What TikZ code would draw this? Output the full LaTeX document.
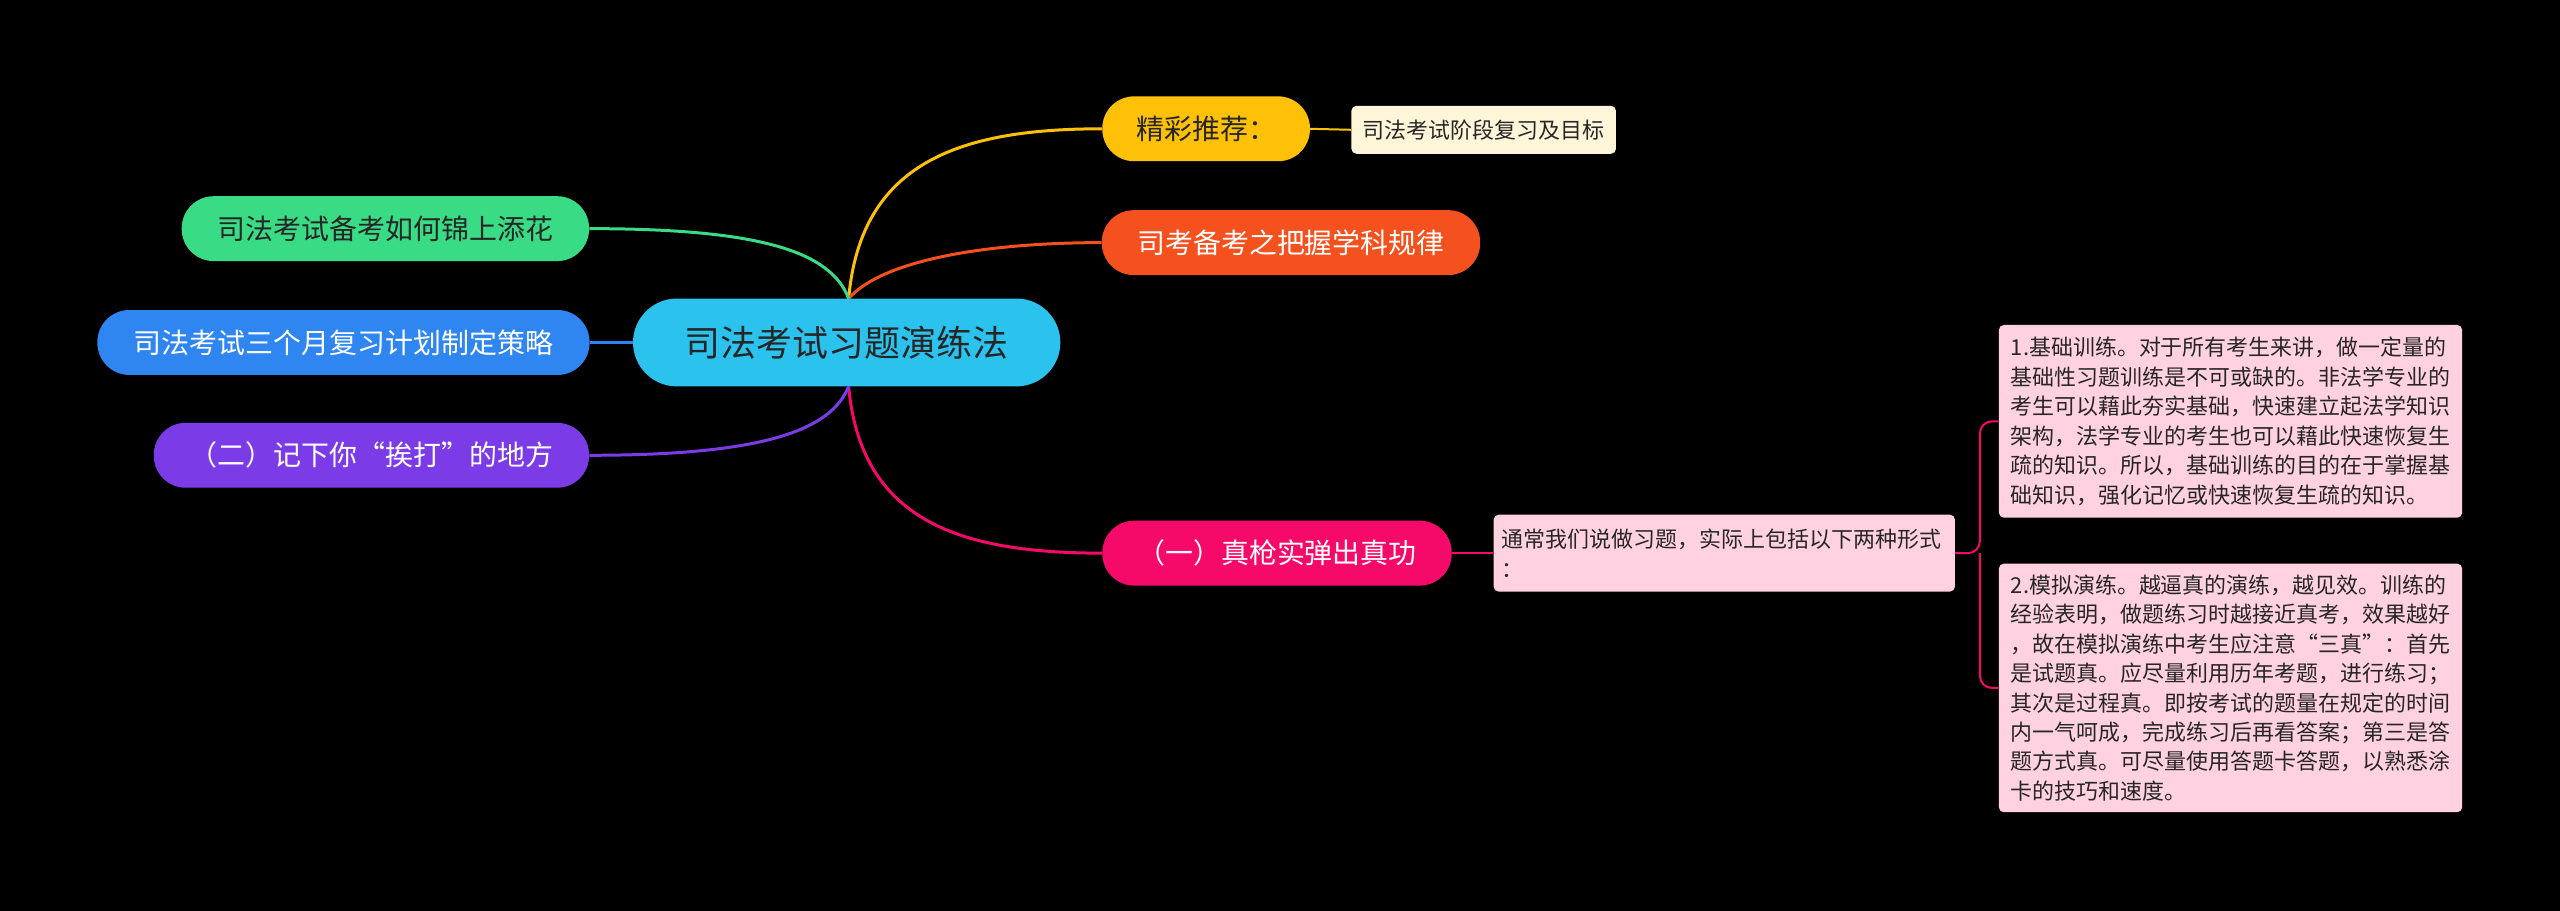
\documentclass[tikz,border=0pt]{standalone}
\usepackage{fontspec}
\setmainfont{Noto Sans CJK SC}
\begin{document}
\begin{tikzpicture}[x=1pt,y=-1pt,
 topic/.style={rounded corners=32pt,minimum height=65pt,inner sep=0pt,font=\fontsize{28}{30}\selectfont,text=white},
 note/.style={rounded corners=5pt,inner sep=0pt,align=left,font=\fontsize{22}{30}\selectfont,text=black!85},
 conn/.style={line width=3pt}]
\fill[black] (-2,-2) rectangle (2562,910);
\useasboundingbox (0,0) rectangle (2560,908);
\definecolor{cya}{HTML}{2BC3EE}
\definecolor{yel}{HTML}{FFC107}
\definecolor{ora}{HTML}{F4511E}
\definecolor{pnk}{HTML}{F50A6A}
\definecolor{grn}{HTML}{3ADB85}
\definecolor{blu}{HTML}{2F86F0}
\definecolor{pur}{HTML}{7B3CE8}
\definecolor{lpk}{HTML}{FFD1E1}
\definecolor{lye}{HTML}{FFF6D9}
\node[topic,fill=cya,minimum width=428pt,minimum height=88pt,rounded corners=44pt,font=\fontsize{36}{40}\selectfont,text=black!85] (c) at (846,341) {司法考试习题演练法};
\node[topic,fill=yel,minimum width=208pt,text=black!85] (a) at (1206,127) {精彩推荐：};
\node[note,fill=lye,minimum width=265pt,minimum height=48pt,align=center] (a1) at (1484,128) {司法考试阶段复习及目标};
\node[topic,fill=ora,minimum width=379pt] (b) at (1291,241) {司考备考之把握学科规律};
\node[topic,fill=pnk,minimum width=350pt] (d) at (1277,552) {（一）真枪实弹出真功};
\node[note,fill=lpk,minimum width=462pt,minimum height=77pt,text width=446pt] (d1) at (1725,552) {通常我们说做习题，实际上包括以下两种形式\\：};
\node[note,fill=lpk,minimum width=464pt,minimum height=193pt,text width=440pt,font=\fontsize{22}{29.5}\selectfont] (e1) at (2232,420) {1.基础训练。对于所有考生来讲，做一定量的\\基础性习题训练是不可或缺的。非法学专业的\\考生可以藉此夯实基础，快速建立起法学知识\\架构，法学专业的考生也可以藉此快速恢复生\\疏的知识。所以，基础训练的目的在于掌握基\\础知识，强化记忆或快速恢复生疏的知识。};
\node[note,fill=lpk,minimum width=464pt,minimum height=249pt,text width=440pt,font=\fontsize{22}{29.5}\selectfont] (e2) at (2232,687) {2.模拟演练。越逼真的演练，越见效。训练的\\经验表明，做题练习时越接近真考，效果越好\\，故在模拟演练中考生应注意“三真”：首先\\是试题真。应尽量利用历年考题，进行练习；\\其次是过程真。即按考试的题量在规定的时间\\内一气呵成，完成练习后再看答案；第三是答\\题方式真。可尽量使用答题卡答题，以熟悉涂\\卡的技巧和速度。};
\node[topic,fill=grn,minimum width=408pt,text=black!85] (l1) at (384,227) {司法考试备考如何锦上添花};
\node[topic,fill=blu,minimum width=493pt] (l2) at (342,341) {司法考试三个月复习计划制定策略};
\node[topic,fill=pur,minimum width=436pt] (l3) at (370,454) {（二）记下你“挨打”的地方};
\coordinate (ct) at (848,297);
\coordinate (cb) at (848,385);
\draw[conn,yel] (ct) .. controls (860,160) and (960,127) .. (a.west);
\draw[conn,ora] (ct) .. controls (880,260) and (980,241) .. (b.west);
\draw[conn,pnk] (cb) .. controls (860,520) and (960,552) .. (d.west);
\draw[conn,grn] (l1.east) .. controls (760,227) and (830,250) .. (ct);
\draw[conn,blu] (l2.east) -- (c.west);
\draw[conn,pur] (l3.east) .. controls (760,454) and (830,430) .. (cb);
\draw[line width=2pt,yel] (a.east) -- (a1.west);
\draw[line width=2pt,pnk] (d.east) -- (d1.west);
\draw[line width=2pt,pnk,rounded corners=12pt] (d1.east) -- (1981,552) -- (1981,420) -- (e1.west);
\draw[line width=2pt,pnk,rounded corners=12pt] (1981,552) -- (1981,687) -- (e2.west);
\end{tikzpicture}
\end{document}
